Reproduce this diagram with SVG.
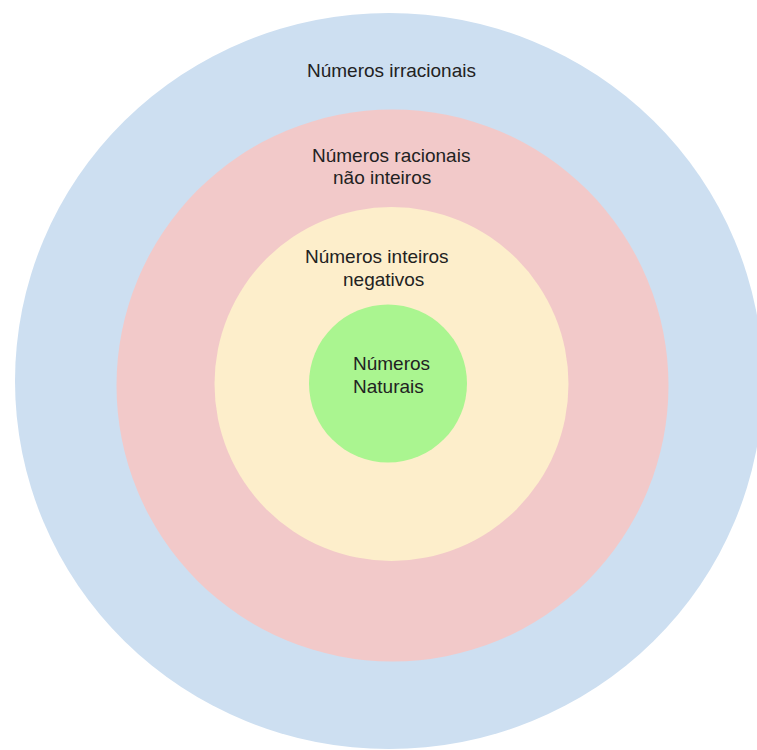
<svg xmlns="http://www.w3.org/2000/svg" width="757" height="750" viewBox="0 0 757 750">
<style>
text{font-family:"Liberation Sans",Arial,sans-serif;font-size:19px;fill:#222}
</style>
<rect width="757" height="750" fill="#ffffff"/>
<g id="irracionais">
<ellipse cx="389" cy="381" rx="374" ry="368" fill="#cddff1"/>
<text x="307" y="77">Números irracionais</text>
</g>
<g id="racionais">
<circle cx="392.5" cy="385.5" r="276" fill="#f2c9c9"/>
<text x="312" y="162">Números racionais</text>
<text x="333" y="184">não inteiros</text>
</g>
<g id="inteiros">
<circle cx="391.5" cy="384" r="177" fill="#fdeecb"/>
<text x="305" y="263">Números inteiros</text>
<text x="343" y="286">negativos</text>
</g>
<g id="naturais">
<circle cx="388" cy="383.5" r="79" fill="#aaf590"/>
<text x="353" y="370">Números</text>
<text x="353" y="393">Naturais</text>
</g>
</svg>
